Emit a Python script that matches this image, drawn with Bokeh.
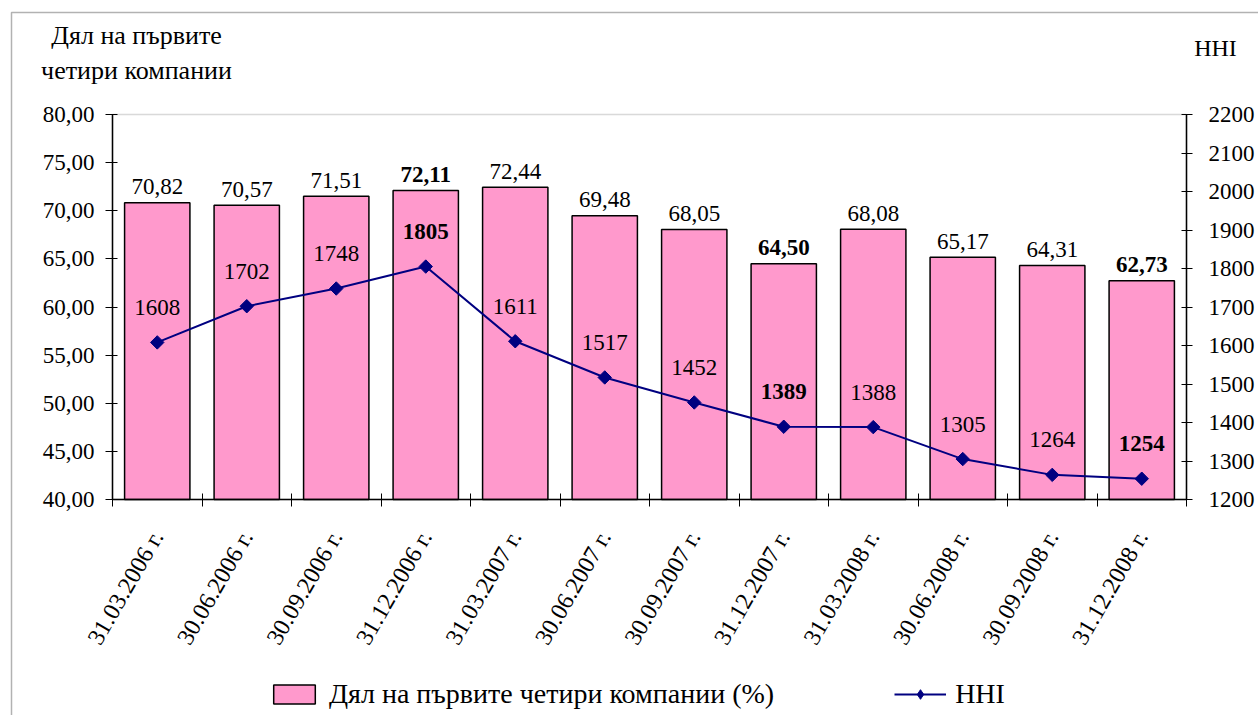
import math
from bokeh.plotting import figure
from bokeh.models import (ColumnDataSource, Range1d, LinearAxis, FixedTicker,
                          Legend, BoxAnnotation)
from bokeh.core.properties import value
from bokeh.embed import file_html
from bokeh.resources import INLINE

# ---- data ----
dates = ["31.03.2006 г.", "30.06.2006 г.", "30.09.2006 г.", "31.12.2006 г.",
         "31.03.2007 г.", "30.06.2007 г.", "30.09.2007 г.", "31.12.2007 г.",
         "31.03.2008 г.", "30.06.2008 г.", "30.09.2008 г.", "31.12.2008 г."]
share = [70.82, 70.57, 71.51, 72.11, 72.44, 69.48, 68.05, 64.50, 68.08, 65.17, 64.31, 62.73]
hhi = [1608, 1702, 1748, 1805, 1611, 1517, 1452, 1389, 1388, 1305, 1264, 1254]
left_ticks = [40, 45, 50, 55, 60, 65, 70, 75, 80]
right_ticks = [1200, 1300, 1400, 1500, 1600, 1700, 1800, 1900, 2000, 2100, 2200]
left_title = ["Дял на първите", "четири компании"]
right_title = "HHI"
share_name = "Дял на първите четири компании (%)"

FONT = "Liberation Serif"
BAR = "#FF99CC"
NAVY = "#000080"

# ---- layout (canvas pixels) ----
W, H = 1258, 715                      # canvas size; the frame fills the canvas
PA_L, PA_R, PA_T, PA_B = 112, 1186, 114, 499   # plot-area box in pixels
n = len(dates)
Y0, Y1 = left_ticks[0], left_ticks[-1]
H0, H1 = right_ticks[0], right_ticks[-1]
ux = (PA_R - PA_L) / n
uy = (PA_B - PA_T) / (Y1 - Y0)
uh = (PA_B - PA_T) / (H1 - H0)


def xd(px):
    return -0.5 + (px - PA_L) / ux


def yd(py):
    return Y0 + (PA_B - py) / uy


def hd(py):
    return H0 + (PA_B - py) / uh


idx = list(range(n))
styles = ["bold" if d.startswith("31.12") else "normal" for d in dates]
src = ColumnDataSource(dict(
    x=idx, share=share, hhi=hhi,
    share_lbl=[f"{v:.2f}".replace(".", ",") for v in share],
    hhi_lbl=[str(v) for v in hhi],
    style=styles,
))

p = figure(width=W, height=H, output_backend="svg", toolbar_location=None,
           x_range=Range1d(xd(0), xd(W)), y_range=Range1d(yd(H), yd(0)),
           min_border=0, min_border_left=0, min_border_right=0,
           min_border_top=0, min_border_bottom=0)
p.extra_y_ranges = {"hhi": Range1d(hd(H), hd(0))}
p.xgrid.visible = False
p.ygrid.visible = False
p.outline_line_color = None
p.background_fill_color = "white"
p.border_fill_color = "white"

# outer chart border (only left/top edges fall inside the window)
p.add_layout(BoxAnnotation(left=xd(11), top=yd(12), right=xd(W + 30), bottom=yd(H + 30),
                           fill_alpha=0, line_color="black", line_width=1.5,
                           level="underlay"))
# plot-area border
p.add_layout(BoxAnnotation(left=-0.5, right=n - 0.5, bottom=Y0, top=Y1,
                           fill_alpha=0, line_color="#808080", line_width=1.5,
                           level="underlay"))

# bars
bars = p.vbar(x="x", top="share", bottom=Y0, width=0.73, source=src,
              fill_color=BAR, line_color="black", line_width=1.5)
# line + markers
ln = p.line(x="x", y="hhi", source=src, y_range_name="hhi", line_color=NAVY, line_width=2)
mk = p.scatter(x="x", y="hhi", source=src, y_range_name="hhi", marker="square",
               angle=math.pi / 4, size=9.5, fill_color=NAVY, line_color=NAVY)
# hidden diamond renderer, used only for the legend symbol
leg_mk = p.scatter(x="x", y="hhi", source=src, y_range_name="hhi", marker="diamond",
                   size=13, fill_color=NAVY, line_color=NAVY, visible=False)

# value labels
p.text(x="x", y="share", text="share_lbl", source=src, text_align="center",
       text_baseline="alphabetic", y_offset=-16, text_font=value(FONT),
       text_font_size="23px", text_font_style="style", text_color="black")
p.text(x="x", y="hhi", text="hhi_lbl", source=src, y_range_name="hhi",
       text_align="center", text_baseline="alphabetic", y_offset=-35,
       text_font=value(FONT), text_font_size="23px", text_font_style="style",
       text_color="black")

# axis titles
p.text(x=[xd(136)] * len(left_title), y=[yd(35), yd(70)], text=left_title,
       text_align="center", text_baseline="middle", text_font=value(FONT),
       text_font_size="26px", text_color="black")
p.text(x=[xd(1215)], y=[yd(47)], text=[right_title],
       text_align="center", text_baseline="middle", text_font=value(FONT),
       text_font_size="24px", text_color="black")

# axes
xa = p.xaxis[0]
xa.fixed_location = Y0
xa.bounds = (-0.5, n - 0.5)
xa.ticker = FixedTicker(ticks=idx, minor_ticks=[i - 0.5 for i in range(n + 1)])
xa.major_label_overrides = {i: d for i, d in enumerate(dates)}
xa.major_label_orientation = math.pi / 3
xa.major_tick_in = 0
xa.major_tick_out = 0
xa.minor_tick_in = 6
xa.minor_tick_out = 7
xa.minor_tick_line_color = "black"
xa.axis_line_color = "black"
xa.axis_line_width = 1.5
xa.major_label_standoff = 26
xa.major_label_text_font = FONT
xa.major_label_text_font_size = "24px"
xa.major_label_text_color = "black"

ya = p.yaxis[0]
ya.fixed_location = -0.5
ya.bounds = (Y0, Y1)
ya.ticker = FixedTicker(ticks=left_ticks)
ya.major_label_overrides = {t: f"{t:.2f}".replace(".", ",") for t in left_ticks}
ya.minor_tick_line_color = None
ya.major_tick_in = 5
ya.major_tick_out = 7
ya.axis_line_width = 1.5
ya.major_label_standoff = 11
ya.major_label_text_font = FONT
ya.major_label_text_font_size = "23px"
ya.major_label_text_color = "black"

ra = LinearAxis(y_range_name="hhi", ticker=FixedTicker(ticks=right_ticks),
                fixed_location=n - 0.5, bounds=(H0, H1))
ra.minor_tick_line_color = None
ra.major_tick_in = 5
ra.major_tick_out = 6
ra.axis_line_width = 1.5
ra.major_label_standoff = 16
ra.major_label_text_font = FONT
ra.major_label_text_font_size = "23px"
ra.major_label_text_color = "black"
p.add_layout(ra, "right")

# legend
legend = Legend(items=[(share_name, [bars]), (right_title, [ln, leg_mk])],
                orientation="horizontal", location=(268, 5),
                glyph_width=52, glyph_height=24, label_standoff=9, spacing=120,
                padding=0, margin=0, border_line_color=None,
                background_fill_alpha=0,
                label_text_font_size="28px", label_text_color="black")
try:
    legend.label_text_font = value(FONT)
except Exception:
    legend.label_text_font = FONT
p.add_layout(legend, "center")

open("out.html", "w").write(file_html(p, INLINE))
